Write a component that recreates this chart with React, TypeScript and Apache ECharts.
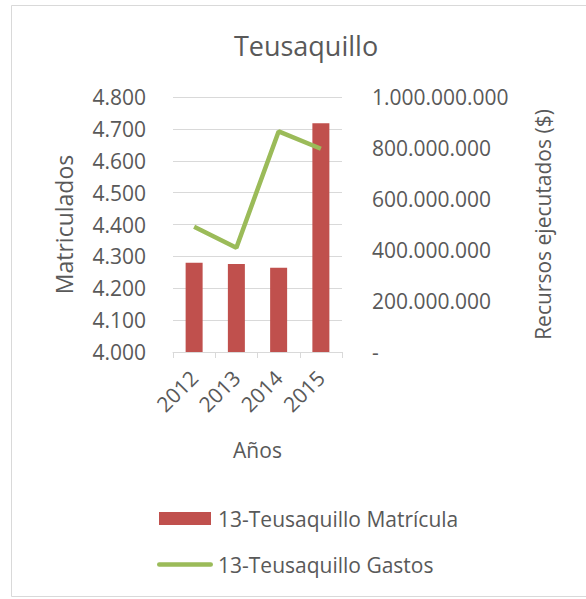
import React, { useEffect, useRef } from "react";
import * as echarts from "echarts";

const title = "Teusaquillo";
const categories = ["2012", "2013", "2014", "2015"];
const matricula = [4280, 4276, 4264, 4718];
const gastos = [491000000, 409000000, 865000000, 797000000];
const seriesNames = ["13-Teusaquillo Matrícula", "13-Teusaquillo Gastos"];
const leftAxisName = "Matriculados";
const rightAxisName = "Recursos ejecutados ($)";
const xAxisName = "Años";

const FONT = "'Open Sans', sans-serif";
const TEXT = "#595959";
const GRID = "#d9d9d9";

function fmtThousands(v: number): string {
  return Math.round(v)
    .toString()
    .replace(/\B(?=(\d{3})+(?!\d))/g, ".");
}

export default function App() {
  const ref = useRef<HTMLDivElement>(null);
  useEffect(() => {
    if (!ref.current) return;
    const chart = echarts.init(ref.current, undefined, { renderer: "svg" });
    chart.setOption({
      animation: false,
      backgroundColor: "#ffffff",
      textStyle: { fontFamily: FONT, color: TEXT },
      graphic: [
        {
          type: "rect",
          shape: { x: 11.5, y: 5.5, width: 600, height: 591 },
          style: { fill: "none", stroke: GRID, lineWidth: 1 },
          silent: true,
        },
      ],
      title: {
        text: title,
        left: 301,
        textAlign: "center",
        top: 27,
        textStyle: { fontFamily: FONT, fontSize: 27, fontWeight: "normal", color: TEXT },
      },
      grid: { left: 173, right: 244, top: 97, bottom: 247, containLabel: false },
      legend: {
        orient: "vertical",
        left: 152,
        top: 503,
        itemWidth: 56,
        itemHeight: 13,
        itemGap: 25,
        textStyle: { fontFamily: FONT, fontSize: 21, color: TEXT, lineHeight: 21 },
        data: [
          { name: seriesNames[0], icon: "path://M0,0 L52,0 L52,13 L0,13 Z" },
          {
            name: seriesNames[1],
            icon: "path://M2.25,0 L53.75,0 A2.25,2.25 0 0 1 53.75,4.5 L2.25,4.5 A2.25,2.25 0 0 1 2.25,0 Z",
            itemStyle: { color: "#9bbb59" },
          },
        ],
      },
      xAxis: {
        type: "category",
        data: categories,
        name: xAxisName,
        nameLocation: "middle",
        nameGap: 87,
        nameTextStyle: { fontFamily: FONT, fontSize: 21, color: TEXT },
        axisLine: { lineStyle: { color: GRID } },
        axisTick: { show: true, length: 6, lineStyle: { color: GRID } },
        axisLabel: { rotate: 45, fontFamily: FONT, fontSize: 21, color: TEXT, margin: 22 },
      },
      yAxis: [
        {
          type: "value",
          min: 4000,
          max: 4800,
          interval: 100,
          name: leftAxisName,
          nameLocation: "middle",
          nameGap: 98,
          nameRotate: 90,
          nameTextStyle: { fontFamily: FONT, fontSize: 23, color: TEXT },
          axisLine: { show: false },
          axisTick: { show: false },
          splitLine: { lineStyle: { color: GRID } },
          axisLabel: {
            fontFamily: FONT,
            fontSize: 21,
            color: TEXT,
            margin: 27,
            formatter: (v: number) => fmtThousands(v),
          },
        },
        {
          type: "value",
          min: 0,
          max: 1000000000,
          interval: 200000000,
          name: rightAxisName,
          nameLocation: "middle",
          nameGap: 190,
          nameRotate: 90,
          nameTextStyle: { fontFamily: FONT, fontSize: 21, color: TEXT },
          axisLine: { show: false },
          axisTick: { show: false },
          splitLine: { show: false },
          axisLabel: {
            fontFamily: FONT,
            fontSize: 21,
            color: TEXT,
            margin: 30,
            formatter: (v: number) => (v === 0 ? "-" : fmtThousands(v)),
          },
        },
      ],
      series: [
        {
          name: seriesNames[0],
          type: "bar",
          yAxisIndex: 0,
          data: matricula,
          barWidth: 17,
          itemStyle: { color: "#c0504d" },
        },
        {
          name: seriesNames[1],
          type: "line",
          yAxisIndex: 1,
          data: gastos,
          symbol: "none",
          lineStyle: { color: "#9bbb59", width: 4.5 },
          itemStyle: { color: "#9bbb59" },
        },
      ],
    });
    return () => chart.dispose();
  }, []);
  return (
    <div
      ref={ref}
      style={{ position: "absolute", left: 0, top: 0, width: 586, height: 599 }}
    />
  );
}
